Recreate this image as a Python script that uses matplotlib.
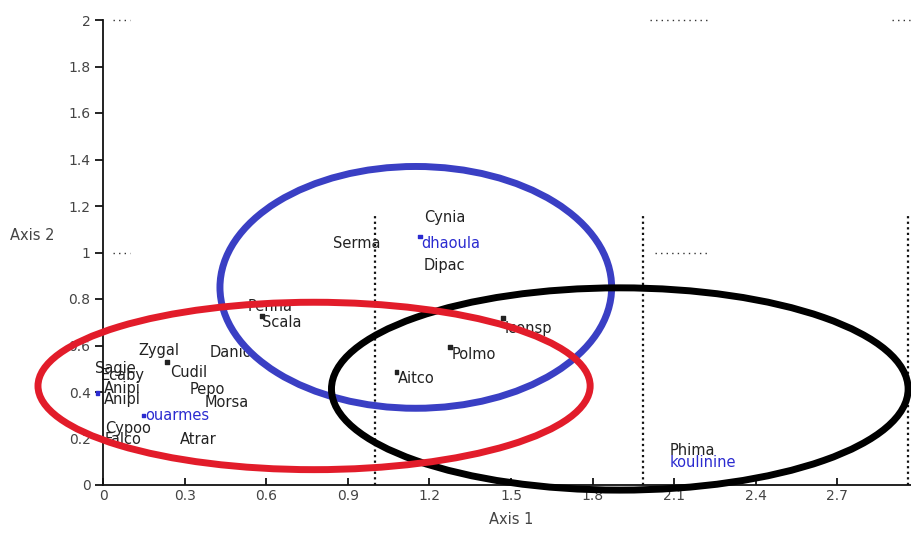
import matplotlib
matplotlib.use("Agg")
import matplotlib.pyplot as plt
from matplotlib.patches import Ellipse

# ---- data ----
labels = ["Cynia", "Serma", "dhaoula", "Dipac", "Penna", "Scala", "Iconsp", "Polmo",
          "Aitco", "Zygal", "Danio", "Sagie", "Ecaby", "Cudil", "Anipi", "Pepo",
          "Anipl", "Morsa", "ouarmes", "Cypoo", "Falco", "Atrar", "Phima", "koulinine"]
label_x = [1.18, 0.845, 1.17, 1.18, 0.53, 0.585, 1.478, 1.283, 1.085, 0.129, 0.393, -0.03,
           -0.01, 0.246, 0.004, 0.32, 0.004, 0.375, 0.155, 0.007, 0.007, 0.283, 2.085, 2.085]
label_y = [1.15, 1.04, 1.04, 0.946, 0.766, 0.70, 0.675, 0.563, 0.46, 0.58, 0.572, 0.503,
           0.469, 0.486, 0.417, 0.409, 0.366, 0.353, 0.30, 0.245, 0.194, 0.194, 0.15, 0.095]
label_color = ["k", "k", "b", "k", "k", "k", "k", "k", "k", "k", "k", "k",
               "k", "k", "k", "k", "k", "k", "b", "k", "k", "k", "k", "b"]

marker_x = [1.165, 0.585, 1.47, 1.276, 1.08, 0.235, -0.02, 0.148]
marker_y = [1.07, 0.727, 0.718, 0.594, 0.486, 0.529, 0.396, 0.30]
marker_color = ["b", "k", "k", "k", "k", "k", "b", "b"]

ell_cx = [1.15, 1.90, 0.776]
ell_cy = [0.85, 0.413, 0.426]
ell_w = [1.44, 2.12, 2.03]
ell_h = [1.04, 0.87, 0.72]
ell_color = ["#3a3fc4", "#000000", "#e21c2a"]

x_ticks = [0, 0.3, 0.6, 0.9, 1.2, 1.5, 1.8, 2.1, 2.4, 2.7, 3]
x_ticklabels = ["0", "0.3", "0.6", "0.9", "1.2", "1.5", "1.8", "2.1", "2.4", "2.7", "3"]
y_ticks = [0, 0.2, 0.4, 0.6, 0.8, 1, 1.2, 1.4, 1.6, 1.8, 2]
y_ticklabels = ["0", "0.2", "0.4", "0.6", "0.8", "1", "1.2", "1.4", "1.6", "1.8", "2"]

vdot_x = [1.0, 1.985, 2.96]
vdot_top = 1.17
hdot_segments = [(0.037, 0.10, 2.0), (0.037, 0.10, 1.0), (2.01, 2.22, 2.0),
                 (2.03, 2.22, 1.0), (2.90, 2.99, 2.0)]

colmap = {"k": "#222222", "b": "#2b2bd0"}

# ---- figure ----
fig = plt.figure(figsize=(9.11, 5.36), dpi=100)
ax = fig.add_axes([103 / 911, 51 / 536, 3 * 272 / 911, 465 / 536])
ax.set_xlim(0, 3)
ax.set_ylim(0, 2)

for s in ["top", "right"]:
    ax.spines[s].set_visible(False)
for s in ["left", "bottom"]:
    ax.spines[s].set_linewidth(1.3)
    ax.spines[s].set_color("#111111")

ax.set_xticks(x_ticks)
ax.set_xticklabels(x_ticklabels)
ax.set_yticks(y_ticks)
ax.set_yticklabels(y_ticklabels)
ax.tick_params(axis="x", direction="in", length=5, width=1.2, pad=3,
               labelsize=10, labelcolor="#444444")
ax.tick_params(axis="y", direction="out", length=6, width=1.2, pad=3,
               labelsize=10, labelcolor="#444444")

# dotted guide lines
for xv in vdot_x:
    ax.plot([xv, xv], [0, vdot_top], color="#111111", lw=1.6, ls=(0, (1, 1.5)),
            clip_on=False, zorder=1)
for x0, x1, yv in hdot_segments:
    ax.plot([x0, x1], [yv, yv], color="#333333", lw=1.0, ls=(0, (1, 3)),
            clip_on=False, zorder=1)

# labels
for lab, x, y, c in zip(labels, label_x, label_y, label_color):
    ax.text(x, y, lab, ha="left", va="center", fontsize=10.5, color=colmap[c],
            clip_on=False, zorder=2)

ax.scatter(marker_x, marker_y, s=6, marker="s",
           c=[colmap[c] for c in marker_color], zorder=3, clip_on=False)

# ellipses
for cx, cy, w, h, c in zip(ell_cx, ell_cy, ell_w, ell_h, ell_color):
    ax.add_patch(Ellipse((cx, cy), w, h, fill=False, edgecolor=c, lw=5,
                         zorder=4, clip_on=False))

ax.set_xlabel("Axis 1", fontsize=10.5, color="#444444", labelpad=6)
fig.text(10 / 911, 1 - 235 / 536, "Axis 2", fontsize=10.5, color="#444444",
         ha="left", va="center")

fig.savefig("out.png", dpi=100)
